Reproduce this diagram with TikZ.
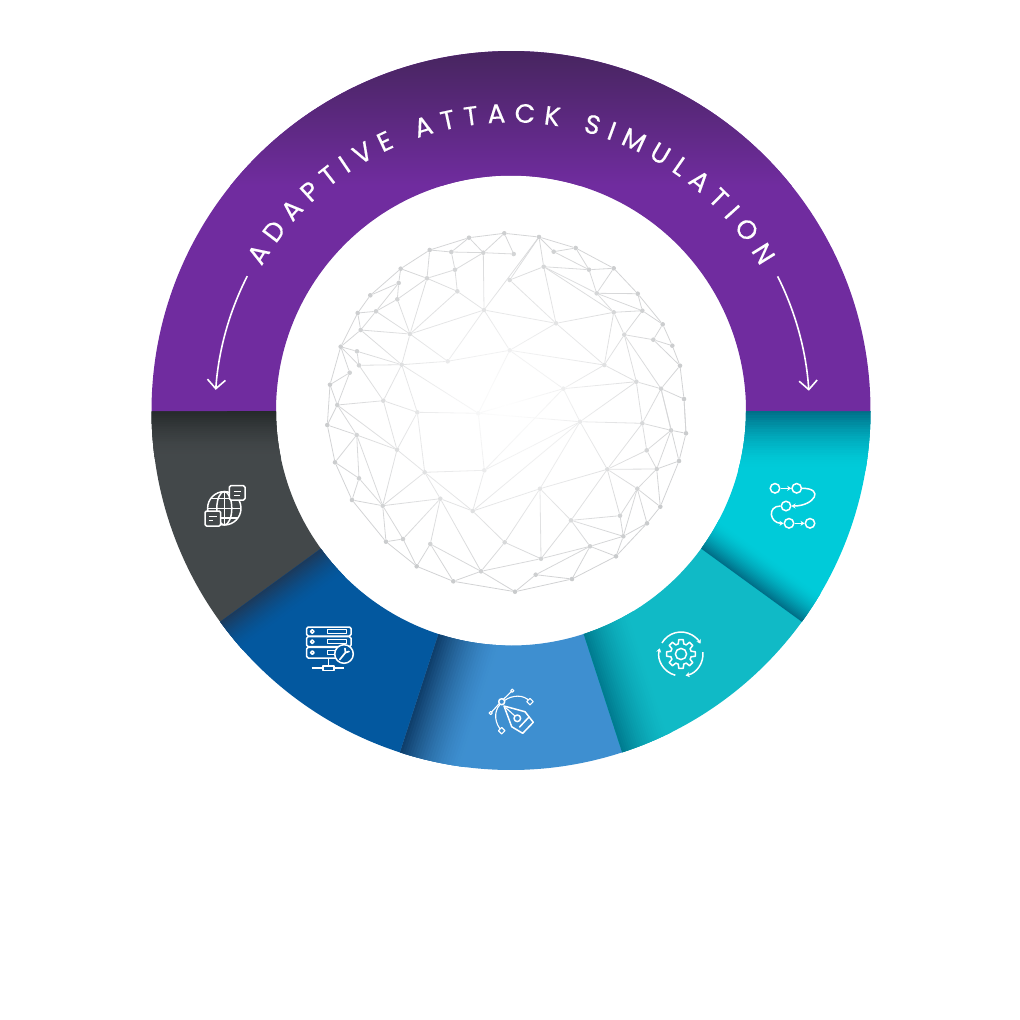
\documentclass[tikz,border=0pt]{standalone}
\usepackage{fontspec}
\setmainfont{Poppins}
\newfontfamily\ringfont[FakeBold=0.35]{Poppins}
\usetikzlibrary{arrows.meta,decorations.text,fadings}
\definecolor{ringpurple}{HTML}{702C9F}
\definecolor{ringpurpletop}{HTML}{47255F}
\definecolor{ringdark}{HTML}{43484A}
\definecolor{ringdarkedge}{HTML}{25292A}
\definecolor{ringblue}{HTML}{03589F}
\definecolor{ringblueedge}{HTML}{1C3A5C}
\definecolor{ringsky}{HTML}{3E8FD0}
\definecolor{ringskyedge}{HTML}{0F3F6C}
\definecolor{ringteal}{HTML}{10BAC6}
\definecolor{ringtealedge}{HTML}{007C90}
\definecolor{ringcyan}{HTML}{00CBD9}
\definecolor{ringcyanedge}{HTML}{006F88}
\definecolor{meshgray}{HTML}{BDBFC1}
\definecolor{meshline}{HTML}{C6C7C9}
\tikzfading[name=meshfade,inner color=transparent!0,outer color=transparent!100]
\tikzset{
  meshdot/.style={circle,fill=meshgray,inner sep=0pt,minimum size=4.6pt},
  meshedge/.style={meshline,line width=0.8pt},
  iconline/.style={white,line width=1.5pt,line join=round},
  flowdot/.style={circle,draw=white,line width=1.5pt,inner sep=0pt,minimum size=9.5pt},
  flowedge/.style={white,line width=1.5pt,-{Stealth[length=4pt,width=5pt]}},
  ringarrow/.style={white,line width=1.6pt,-{Straight Barb[length=9pt,width=18pt,line width=1.6pt]}},
}
\newcommand{\ringpath}[2]{(#1:359.5) arc[start angle=#1,end angle=#2,radius=359.5] -- (#2:235) arc[start angle=#2,end angle=#1,radius=235] -- cycle}
\newcommand{\ringshade}[4]{%
  \foreach \k in {0,...,24} {
    \pgfmathsetmacro\pct{100*(1-\k/24)^1.6}
    \fill[rotate=#1,#3!\pct!#4] (150,{#2*\k/24}) rectangle (400,{#2*(\k+2)/24});
  }}
\begin{document}
\begin{tikzpicture}[x=1pt,y=-1pt]
  \useasboundingbox (0,0) rectangle (1020,1020);
  % Mesh dots
  \foreach \n/\px/\py in {
    a1/504.3/233.3,a2/469/237.7,a3/429.7/250,a4/400.7/268.7,a5/370.3/295.3,a6/357.7/313,
    a7/340.7/346.7,a8/330/384.7,a9/337.3/405,a10/327.3/425,a11/335/462.3,a12/352/500,
    a13/386/541.7,a14/416.7/566.3,a15/453.3/581.3,a16/515/591.7,a17/572/579,a18/616/556.3,
    a19/647/523.3,a20/660.3/506.7,a21/679/461,a22/686/433.3,a23/684/399,a24/680/365.7,
    a25/672.3/345.7,a26/662.7/324.3,a27/637.7/293.7,a28/613.7/268.3,a29/575.7/248,a30/539/237,
    b1/451.3/252,b2/483.3/252.7,b3/513.7/254,b4/553.7/251.7,b5/543.7/266.7,b6/589/269.7,
    b7/455/269.7,b8/427/278.3,b9/398.7/283,b10/509.7/280,b11/397.3/299.3,b12/457.3/291.3,
    b13/376/311.3,b14/596.7/293.3,b15/613.7/312.3,b16/642.3/310.7,b17/484/310,b18/556/323.3,
    b19/360.7/330,b20/410/334,b21/624.3/334.7,b22/653.3/339.7,b23/357/351.3,b24/509.7/350.3,
    b25/447.7/361.3,b26/359/365.3,b27/401.7/364.7,b28/604.3/365,b29/349.7/372.7,b30/636.3/381.7,
    b31/661/388.7,b32/563.3/388.7,b33/383.3/400.7,
    c1/417.3/412.3,c2/478.3/413.3,c3/580/421.7,c4/642.3/423.3,c5/671/430.3,c6/356.7/435,
    c7/397/449.7,c8/646.7/450.3,c9/607.3/469.3,c10/656.7/469,c11/424.7/472.3,c12/484.3/470.3,
    c13/359/478.3,c14/637.3/488.7,c15/540/488.7,c16/440.3/498.7,c17/382.7/505.7,c18/472.7/511,
    c19/620/515.7,c20/571/520.3,c21/623.3/536.3,c22/403/539,c23/504.7/542.3,c24/430.3/544,
    c25/590/546.3,c26/541/558.7,c27/481/571.3,c28/535.7/574.7}
    \node[meshdot] (\n) at (\px,\py) {};
  % Mesh lines
  \foreach \p/\q in {
    a1/a2,a2/a3,a3/a4,a4/a5,a5/a6,a6/a7,a7/a8,a8/a10,a8/a9,a9/a10,a10/a11,a11/a12,a12/a13,
    a13/a14,a14/a15,a15/a16,a16/a17,a17/a18,a18/a19,a19/a20,a20/a21,a21/a22,a22/a23,a23/a24,
    a24/a25,a25/a26,a26/a27,a27/a28,a28/a29,a29/a30,a30/a1,
    a2/b1,a3/b1,b1/b2,a2/b2,a1/b2,a1/b3,b2/b3,a30/b17,a30/b10,b2/b17,a30/b4,a30/b5,b4/a29,
    b4/b6,a29/b6,b6/a28,b5/b6,b5/b10,b5/b18,b5/b14,b5/b15,a28/b14,b6/b14,b14/a27,b14/b16,
    a27/b16,b14/b15,b15/b16,b16/a26,b16/b21,a26/b22,b21/b22,b22/a25,b22/a24,b15/b21,b15/b18,
    b15/b28,b21/b28,b21/b31,b21/b30,a24/b31,b31/a23,b30/b31,b28/b30,b28/b18,b18/b10,b18/b24,
    b18/b17,b17/b24,b17/b25,b17/b12,b17/b20,b12/b8,b12/b20,b12/b7,b7/b8,b7/b1,b7/b2,b8/a3,
    b8/a4,b8/b11,b8/b20,a4/b9,b9/b11,b9/a5,b9/b13,b11/b13,b11/b20,a6/b13,b13/b19,b13/b20,
    a6/b19,b19/a7,b19/b20,b19/b27,b20/b27,b20/b25,a7/b23,a7/b26,b23/b26,b23/b27,b26/b27,
    b26/b33,a7/b29,b29/a8,b29/a9,b27/b33,b27/c1,b27/b25,b27/c2,b33/a9,b33/c1,b25/b24,b24/b28,
    b24/b32,b24/c2,b32/b28,b32/b30,b32/c2,b32/c3,b32/c12,b30/c3,b30/c4,b31/c4,b31/c5,b31/a21,
    a23/a22,c3/c4,c3/c9,c3/c12,c3/c15,c3/c18,c2/c12,c2/c1,c2/c3,c1/c11,c1/c7,c12/c11,c12/c18,
    c11/c7,c11/c16,c11/c18,c11/c17,a9/c7,a9/c6,a10/c6,c6/c7,c6/a11,c6/c13,c6/c17,c7/c17,
    c7/b33,c13/a11,c13/a12,c13/c17,a12/c17,c17/c16,c17/c22,c17/a13,c16/c18,c16/c22,c16/c24,
    c16/c27,a13/c22,c22/a14,c24/a14,c24/c27,c24/a15,a15/c27,c27/a16,c27/c23,c27/c26,c18/c23,
    c18/c15,c15/c9,c15/c23,c15/c20,c15/c26,c23/c26,c20/c9,c20/c19,c20/c21,c20/c25,c20/c26,
    c26/c25,c25/c28,c28/a16,c28/a17,c25/a17,c25/a18,c25/c21,c21/a18,c21/a19,c21/c19,c21/c14,
    c19/c14,c9/c19,c9/c14,c9/c4,c9/c10,c9/c8,c4/c8,c4/c5,c5/c8,c5/c10,c5/a22,c8/c10,c10/a21,
    c10/c14,c10/a20,c14/a19,c14/a20}
    \draw[meshedge] (\p) -- (\q);
  % Fade towards the middle
  \fill[white,path fading=meshfade] (505,405) circle[radius=230];
  % Ring
  \begin{scope}[shift={(511,410.5)},y=1pt]
    \begin{scope}
      \clip \ringpath{180}{216.2};
      \fill[ringdark] (-400,-400) rectangle (0,0);
      \ringshade{180}{45}{ringdarkedge}{ringdark}
    \end{scope}
    \begin{scope}
      \clip \ringpath{216}{252.2};
      \fill[ringblue] (-400,-400) rectangle (100,0);
      \ringshade{216}{34}{ringblueedge}{ringblue}
    \end{scope}
    \begin{scope}
      \clip \ringpath{252}{288.2};
      \fill[ringsky] (-400,-400) rectangle (400,0);
      \ringshade{252}{62}{ringskyedge}{ringsky}
    \end{scope}
    \begin{scope}
      \clip \ringpath{288}{324.2};
      \fill[ringteal] (-100,-400) rectangle (400,0);
      \ringshade{288}{50}{ringtealedge}{ringteal}
    \end{scope}
    \begin{scope}
      \clip \ringpath{324}{360};
      \fill[ringcyan] (0,-400) rectangle (400,0);
      \ringshade{324}{32}{ringcyanedge}{ringcyan}
      \ringshade{0}{-56}{ringcyanedge}{ringcyan}
    \end{scope}
    \begin{scope}
      \clip \ringpath{-0.1}{180.1};
      \fill[ringpurple] (-400,-1) rectangle (400,400);
      \shade[top color=ringpurpletop,bottom color=ringpurple] (-400,360) rectangle (400,225);
    \end{scope}
    % Title
    \path[decorate,decoration={text along path,text color=white,text align={fit to path},
      text={|\ringfont\fontsize{26.5pt}{27pt}\selectfont|ADAPTIVE ATTACK SIMULATION}}]
      (150:288) arc[start angle=150,end angle=30,radius=288];
    % Arrows
    \coordinate (arrowleft) at (153:296);
    \coordinate (arrowright) at (26.7:298.5);
    \draw[ringarrow] (arrowleft) arc[start angle=153,end angle=176,radius=296];
    \draw[ringarrow] (arrowright) arc[start angle=26.7,end angle=3.8,radius=298.5];
  \end{scope}
  % Globe icon
  \draw[iconline] (224.3,508.3) circle[radius=16.7];
  \draw[iconline] (224.3,508.3) circle[x radius=7.5,y radius=16.7];
  \draw[iconline] (224.3,491.6) -- (224.3,525);
  \draw[iconline] (207.6,508.3) -- (241,508.3);
  \draw[iconline] (211,498.5) -- (237.6,498.5);
  \draw[iconline] (211,518.1) -- (237.6,518.1);
  \draw[iconline,fill=ringdark,rounded corners=1.5pt] (229.3,485.7) rectangle (245,500);
  \draw[iconline,line width=1pt] (233.5,491) -- (241,491) (233.5,495) -- (240,495);
  \draw[iconline,fill=ringdark,rounded corners=1.5pt] (205,511) rectangle (220.7,526);
  \draw[iconline,line width=1pt] (208.5,516.5) -- (216.5,516.5) (208.5,520.5) -- (213,520.5);
  % Server icon
  \foreach \top/\bot/\slot in {627/636/349,636.7/646.7/349,647.3/658/338} {
    \draw[iconline,rounded corners=1.5pt] (306.7,\top) rectangle (351,\bot);
    \draw[iconline] (312.3,{(\top+\bot)/2}) circle[radius=1.8];
    \draw[iconline,line width=1pt] (327,{(\top+\bot)/2-1.8}) rectangle (\slot-3,{(\top+\bot)/2+1.8});
  }
  \draw[iconline] (328.3,658) -- (328.3,666);
  \draw[iconline] (311.7,668) -- (344.3,668);
  \draw[iconline,fill=ringblue] (323,666) rectangle (334,670.5);
  \draw[iconline,fill=ringblue] (344,654) circle[radius=9.3];
  \draw[iconline,line width=1.7pt,line cap=round] (339.8,659.5) -- (345.5,652.5) (345.5,652.5) -- (349,651.5) (345.5,652.5) -- (345,648.5);
  % Pen icon
  \draw[iconline] (504,706) -- (525,711.7) -- (533.3,722.3) -- (522.7,733.3) -- (511.7,726.7) -- cycle;
  \draw[iconline] (519.3,727.3) -- (529.3,716.7);
  \draw[iconline] (517.3,718.3) circle[radius=3.3];
  \draw[iconline,line width=1.1pt] (505.5,707.5) -- (515,716);
  \draw[iconline] (501.7,701.7) circle[radius=3];
  \draw[iconline,line width=1.1pt] (503.5,699.2) -- (512.3,690.7) (499.3,703.5) -- (490.7,713);
  \draw[iconline,line width=1.1pt] (504.5,700.5) .. controls (512,695) and (524,694) .. (530,701.7);
  \draw[iconline,line width=1.1pt] (500,704.5) .. controls (493,712) and (495,724) .. (501.7,730.7);
  \draw[iconline,fill=ringsky,line width=1.1pt] (512.3,690.7) circle[radius=1.6];
  \draw[iconline,fill=ringsky,line width=1.1pt] (490.7,713) circle[radius=1.6];
  \draw[iconline,fill=ringsky,line width=1.1pt,rotate around={45:(530,701.7)}] (527.7,699.4) rectangle (532.3,704);
  \draw[iconline,fill=ringsky,line width=1.1pt,rotate around={45:(501.7,730.7)}] (499.4,728.4) rectangle (504,733);
  % Gear icon
  \begin{scope}[shift={(681,654)},y=1pt]
    \draw[iconline] (-15:10.5) \foreach \a in {0,45,...,315} {
      -- ({\a-15}:10.5) -- ({\a-9}:14.5) -- ({\a+9}:14.5) -- ({\a+15}:10.5)} -- cycle;
    \draw[iconline] (0,0) circle[radius=5.6];
    \draw[flowedge] (150:22) arc[start angle=150,end angle=28,radius=22];
    \draw[flowedge] (5:22) arc[start angle=5,end angle=-78,radius=22];
    \draw[flowedge] (-105:22) arc[start angle=-105,end angle=-195,radius=22];
  \end{scope}
  % Flow icon
  \node[flowdot] (f1) at (775,488.3) {};
  \node[flowdot] (f2) at (796.7,488.3) {};
  \node[flowdot] (f3) at (786,506) {};
  \node[flowdot] (f4) at (789,523.3) {};
  \node[flowdot] (f5) at (810,523.3) {};
  \draw[flowedge] (f1) -- (f2);
  \draw[flowedge] (f2.east) to[out=0,in=0,looseness=2.8] (f3.east);
  \draw[flowedge] (f3.west) to[out=180,in=180,looseness=2] (f4.west);
  \draw[flowedge] (f4) -- (f5);
\end{tikzpicture}
\end{document}
